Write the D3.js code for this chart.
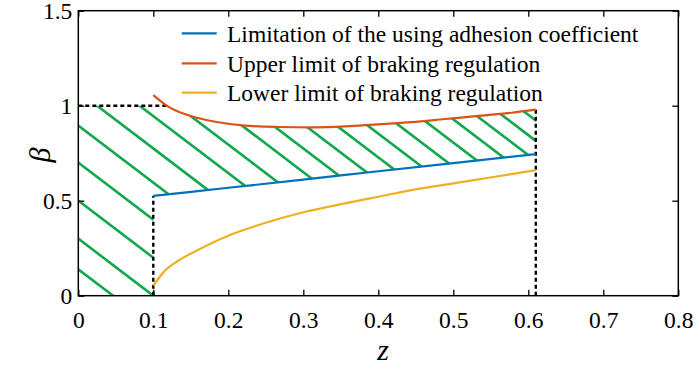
<!DOCTYPE html>
<html>
<head>
<meta charset="utf-8">
<script src="https://cdn.jsdelivr.net/npm/d3@7"></script>
<style>
body { margin: 0; background: #fff; }
svg { display: block; font-family: "Liberation Serif", "Times New Roman", serif; }
</style>
</head>
<body>
<div id="chart"></div>
<script>
// ticks
var zTicks = [0, 0.1, 0.2, 0.3, 0.4, 0.5, 0.6, 0.7, 0.8];
var betaTicks = [0, 0.5, 1, 1.5];

// limitation of the using adhesion coefficient (blue)
var adhZ = [0.1, 0.2, 0.3, 0.4, 0.5, 0.61];
var adhBeta = [0.525, 0.568, 0.611, 0.655, 0.698, 0.745];

// upper limit of braking regulation (red)
var upZ = [0.1, 0.12, 0.1556, 0.1867, 0.2222, 0.2667, 0.3111, 0.3556, 0.4, 0.4444, 0.4889, 0.5333, 0.5778, 0.61];
var upBeta = [1.056, 0.995, 0.939, 0.913, 0.895, 0.888, 0.886, 0.891, 0.902, 0.914, 0.930, 0.946, 0.963, 0.979];

// lower limit of braking regulation (yellow)
var lowZ = [0.1, 0.1156, 0.1333, 0.1556, 0.2, 0.2444, 0.3, 0.3556, 0.4, 0.4444, 0.5, 0.5556, 0.61];
var lowBeta = [0.053, 0.132, 0.184, 0.233, 0.316, 0.377, 0.439, 0.486, 0.521, 0.556, 0.591, 0.626, 0.661];

// hatch lines: beta = offset - hatchSlope * z
var hatchSlope = 3.0;
var hatchOffsets = [0.139, 0.30, 0.50, 0.70, 0.895, 1.075, 1.245, 1.395, 1.55, 1.675, 1.803, 1.928, 2.053, 2.179, 2.306, 2.428, 2.54, 2.645, 2.752];

var legendNames = ["Limitation of the using adhesion coefficient", "Upper limit of braking regulation", "Lower limit of braking regulation"];
var colors = ["#0072BD", "#D95319", "#EDB120"];

var W = 700, H = 372;
var pL = 78.3, pR = 678.3, pT = 10.7, pB = 295.7;

var svg = d3.select("#chart").append("svg").attr("width", W).attr("height", H);

var x = d3.scaleLinear().domain([0, 0.8]).range([pL, pR]);
var y = d3.scaleLinear().domain([0, 1.5]).range([pB, pT]);

var line = d3.line().x(function(d){ return x(d[0]); }).y(function(d){ return y(d[1]); });
function pairs(a, b) { return a.map(function(v, i){ return [v, b[i]]; }); }

// hatched region
var region = [[0, 0], [0.1, 0]]
	.concat(pairs(adhZ, adhBeta))
	.concat([[0.61, upBeta[upBeta.length - 1]]])
	.concat(pairs(upZ, upBeta).filter(function(d){ return d[0] > 0.12; }).reverse())
	.concat([[0.118, 1], [0, 1]]);

svg.append("clipPath").attr("id", "hatchClip")
	.append("path").attr("d", line(region) + "Z");

svg.append("g").attr("clip-path", "url(#hatchClip)")
	.selectAll("line").data(hatchOffsets).enter().append("line")
	.attr("x1", x(-0.1)).attr("y1", function(c){ return y(c + hatchSlope * 0.1); })
	.attr("x2", x(0.8)).attr("y2", function(c){ return y(c - hatchSlope * 0.8); })
	.attr("stroke", "#10a84c").attr("stroke-width", 2.6);

// dashed boundaries
var dashed = [
	[[0, 1], [0.118, 1]],
	[[0.1, 0], [0.1, adhBeta[0]]],
	[[0.61, 0], [0.61, upBeta[upBeta.length - 1]]]
];
svg.append("g").selectAll("path").data(dashed).enter().append("path")
	.attr("d", line)
	.attr("fill", "none").attr("stroke", "#000").attr("stroke-width", 2.4)
	.attr("stroke-dasharray", "4,3");

// curves
var curves = [pairs(adhZ, adhBeta), pairs(upZ, upBeta), pairs(lowZ, lowBeta)];
svg.append("g").selectAll("path").data(curves).enter().append("path")
	.attr("d", d3.line().curve(d3.curveMonotoneX).x(function(d){ return x(d[0]); }).y(function(d){ return y(d[1]); }))
	.attr("fill", "none")
	.attr("stroke", function(d, i){ return colors[i]; })
	.attr("stroke-width", 2.2);

// axes
function styleAxis(g) {
	g.selectAll(".domain").remove();
	g.selectAll("line").attr("stroke", "#000").attr("stroke-width", 1.3);
	g.selectAll("text").attr("font-size", 23.5).attr("fill", "#000")
		.attr("font-family", "'Liberation Serif', 'Times New Roman', serif");
}
var fmt = function(d){ return String(d); };

svg.append("g").attr("transform", "translate(0," + pB + ")")
	.call(d3.axisBottom(x).tickValues(zTicks).tickFormat(fmt).tickSize(-6).tickSizeOuter(0).tickPadding(16))
	.call(styleAxis);
svg.append("g").attr("transform", "translate(0," + pT + ")")
	.call(d3.axisTop(x).tickValues(zTicks).tickFormat("").tickSize(-6).tickSizeOuter(0))
	.call(styleAxis);
svg.append("g").attr("transform", "translate(" + pL + ",0)")
	.call(d3.axisLeft(y).tickValues(betaTicks).tickFormat(fmt).tickSize(-6).tickSizeOuter(0).tickPadding(6))
	.call(styleAxis);
svg.append("g").attr("transform", "translate(" + pR + ",0)")
	.call(d3.axisRight(y).tickValues(betaTicks).tickFormat("").tickSize(-6).tickSizeOuter(0))
	.call(styleAxis);

svg.append("rect")
	.attr("x", pL).attr("y", pT).attr("width", pR - pL).attr("height", pB - pT)
	.attr("fill", "none").attr("stroke", "#000").attr("stroke-width", 1.5);

// axis labels
svg.append("text").attr("x", 383).attr("y", 360).attr("text-anchor", "middle")
	.attr("font-size", 30).attr("font-style", "italic").text("z");
svg.append("text").attr("transform", "translate(50,155) rotate(-90)").attr("text-anchor", "middle")
	.attr("font-size", 30).attr("font-style", "italic").text("β");

// legend
var legendY = [33.3, 63.3, 92.7];
var lg = svg.append("g").selectAll("g").data(legendNames).enter().append("g")
	.attr("transform", function(d, i){ return "translate(0," + legendY[i] + ")"; });
lg.append("line").attr("x1", 181.7).attr("x2", 216.7).attr("y1", 0).attr("y2", 0)
	.attr("stroke", function(d, i){ return colors[i]; }).attr("stroke-width", 2.2);
lg.append("text").attr("x", 227).attr("dy", "0.35em").attr("font-size", 23.5).text(function(d){ return d; });
</script>
</body>
</html>
